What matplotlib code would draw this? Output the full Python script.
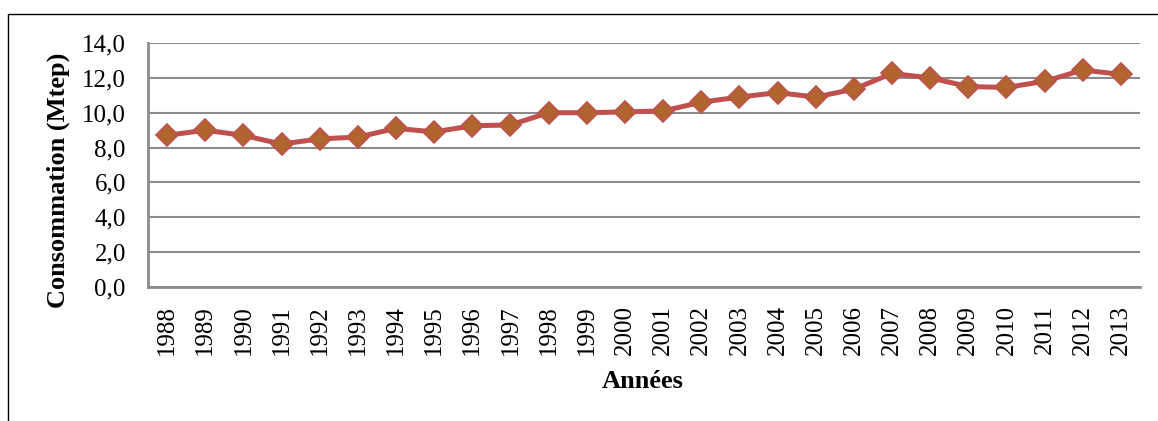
import matplotlib.pyplot as plt
from matplotlib.patches import Rectangle

plt.rcParams['font.family'] = ['Liberation Serif', 'DejaVu Serif']

annees = ['1988', '1989', '1990', '1991', '1992', '1993', '1994', '1995', '1996',
          '1997', '1998', '1999', '2000', '2001', '2002', '2003', '2004', '2005',
          '2006', '2007', '2008', '2009', '2010', '2011', '2012', '2013']
consommation = [8.7, 9.0, 8.7, 8.2, 8.5, 8.6, 9.1, 8.9, 9.25, 9.3, 10.0, 10.0, 10.05,
                10.1, 10.6, 10.9, 11.15, 10.9, 11.35, 12.25, 12.0, 11.5, 11.45, 11.8,
                12.45, 12.2]
yticks = [0, 2, 4, 6, 8, 10, 12, 14]

W, H = 1158, 421
fig = plt.figure(figsize=(W / 100, H / 100), dpi=100)

# cadre exterieur (coupe en bas et a droite)
fig.patches.append(Rectangle((8 / W, -0.1), 1.2, (H - 14) / H + 0.1, transform=fig.transFigure,
                             fill=False, edgecolor='black', linewidth=1.0))

ax = fig.add_axes([148 / W, 1 - 287 / H, (1140 - 148) / W, (287 - 43) / H])

x = list(range(len(annees)))
ax.plot(x, consommation, color='#C0504D', linewidth=3.6, marker='D', markersize=11,
        markerfacecolor='#B0652E', markeredgecolor='#C0504D', markeredgewidth=1.2, zorder=3)

ax.set_xlim(-0.5, len(annees) - 0.5)
ax.set_ylim(0, 14)
ax.set_yticks(yticks)
ax.set_yticklabels([f"{v:.1f}".replace('.', ',') for v in yticks], fontsize=18)
ax.set_xticks(x)
ax.set_xticklabels(annees, rotation=90, fontsize=18)
ax.tick_params(axis='both', length=0)
ax.tick_params(axis='y', pad=16)
ax.tick_params(axis='x', pad=13)

ax.grid(axis='y', color='#8C8C8C', linewidth=1.5)
ax.set_axisbelow(True)
for s in ['top', 'right']:
    ax.spines[s].set_visible(False)
for s in ['left', 'bottom']:
    ax.spines[s].set_color('#8C8C8C')
    ax.spines[s].set_linewidth(2)

fig.text(58 / W, 1 - 180 / H, 'Consommation (Mtep)', rotation=90, ha='center', va='center',
         fontsize=19, fontweight='bold')
fig.text(643 / W, 1 - 382 / H, 'Années', ha='center', va='center',
         fontsize=19, fontweight='bold')

fig.savefig('out.png', dpi=100)
